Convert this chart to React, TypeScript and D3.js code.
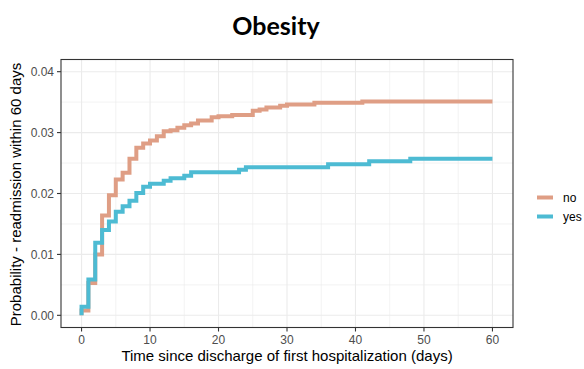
import React from "react";
import * as d3 from "d3";

// Cumulative incidence of readmission by obesity status (step functions)
const daysNo = [0, 1, 2, 3, 4, 5, 6, 7, 8, 9, 10, 11, 12, 13, 14, 15, 16, 17, 19, 20, 22, 25, 26, 27, 29, 30, 34, 41, 60];
const probNo = [0.0008, 0.0053, 0.01, 0.0164, 0.0197, 0.0223, 0.0234, 0.0257, 0.0275, 0.0282, 0.0287, 0.0294, 0.0302, 0.0304, 0.0308, 0.0312, 0.0315, 0.032, 0.0325, 0.0327, 0.0329, 0.0336, 0.0338, 0.0341, 0.0344, 0.0346, 0.0349, 0.0351, 0.0351];

const daysYes = [0, 1, 2, 3, 4, 5, 6, 7, 8, 9, 10, 12, 13, 15, 16, 23, 24, 36, 42, 48, 60];
const probYes = [0.0014, 0.0059, 0.0119, 0.014, 0.0154, 0.017, 0.0179, 0.0188, 0.0201, 0.0211, 0.0216, 0.0221, 0.0225, 0.0229, 0.0235, 0.0239, 0.0243, 0.0248, 0.0253, 0.0257, 0.0257];

const groups = ["no", "yes"];
const groupColors = ["#DF9E85", "#4DBBD3"];

const xTicks = [0, 10, 20, 30, 40, 50, 60];
const xMinor = [5, 15, 25, 35, 45, 55];
const yTicks = [0, 0.01, 0.02, 0.03, 0.04];
const yMinor = [0.005, 0.015, 0.025, 0.035];

const W = 584;
const H = 369;
const panel = { left: 61, right: 513, top: 59.5, bottom: 327.5 };

export default function App() {
  const x = d3.scaleLinear().domain([-3, 63]).range([panel.left, panel.right]);
  const y = d3.scaleLinear().domain([-0.002, 0.042]).range([panel.bottom, panel.top]);

  const line = d3
    .line<[number, number]>()
    .x((d) => x(d[0]))
    .y((d) => y(d[1]))
    .curve(d3.curveStepAfter);

  const series = [
    { days: daysNo, probs: probNo },
    { days: daysYes, probs: probYes },
  ].map((s) => {
    const pts: [number, number][] = [[0, 0]];
    s.days.forEach((d, i) => pts.push([d, s.probs[i]]));
    return pts;
  });

  const font = "'Liberation Sans', Arial, sans-serif";

  return (
    <svg
      width={W}
      height={H}
      style={{ position: "absolute", left: 0, top: 0, background: "#fff" }}
    >
      <text
        x={276}
        y={35}
        textAnchor="middle"
        fontFamily="Lato, 'Open Sans', sans-serif"
        fontWeight={700}
        fontSize={25}
        fill="#000"
      >
        Obesity
      </text>

      {/* grid */}
      <g stroke="#EBEBEB">
        {xMinor.map((t) => (
          <line key={"xm" + t} x1={x(t)} x2={x(t)} y1={panel.top} y2={panel.bottom} strokeWidth={0.6} />
        ))}
        {yMinor.map((t) => (
          <line key={"ym" + t} x1={panel.left} x2={panel.right} y1={y(t)} y2={y(t)} strokeWidth={0.6} />
        ))}
        {xTicks.map((t) => (
          <line key={"xg" + t} x1={x(t)} x2={x(t)} y1={panel.top} y2={panel.bottom} strokeWidth={1.1} />
        ))}
        {yTicks.map((t) => (
          <line key={"yg" + t} x1={panel.left} x2={panel.right} y1={y(t)} y2={y(t)} strokeWidth={1.1} />
        ))}
      </g>

      {/* curves */}
      {series.map((pts, i) => (
        <path
          key={groups[i]}
          d={line(pts) || ""}
          fill="none"
          stroke={groupColors[i]}
          strokeWidth={4}
          strokeLinejoin="miter"
        />
      ))}

      <rect
        x={panel.left}
        y={panel.top}
        width={panel.right - panel.left}
        height={panel.bottom - panel.top}
        fill="none"
        stroke="#333"
        strokeWidth={1.1}
      />

      {/* x axis */}
      <g>
        {xTicks.map((t) => (
          <g key={"xt" + t}>
            <line x1={x(t)} x2={x(t)} y1={panel.bottom} y2={panel.bottom + 4} stroke="#333" strokeWidth={1.1} />
            <text
              x={x(t)}
              y={panel.bottom + 16}
              textAnchor="middle"
              fontFamily={font}
              fontSize={12}
              fill="#4D4D4D"
            >
              {t}
            </text>
          </g>
        ))}
      </g>

      {/* y axis */}
      <g>
        {yTicks.map((t) => (
          <g key={"yt" + t}>
            <line x1={panel.left - 4} x2={panel.left} y1={y(t)} y2={y(t)} stroke="#333" strokeWidth={1.1} />
            <text
              x={panel.left - 7}
              y={y(t) + 4.2}
              textAnchor="end"
              fontFamily={font}
              fontSize={12}
              fill="#4D4D4D"
            >
              {d3.format(".2f")(t)}
            </text>
          </g>
        ))}
      </g>

      <text
        x={(panel.left + panel.right) / 2}
        y={361}
        textAnchor="middle"
        fontFamily={font}
        fontSize={15}
        fill="#000"
      >
        Time since discharge of first hospitalization (days)
      </text>
      <text
        transform={`translate(21, ${(panel.top + panel.bottom) / 2 + 1}) rotate(-90)`}
        textAnchor="middle"
        fontFamily={font}
        fontSize={15}
        fill="#000"
      >
        Probability - readmission within 60 days
      </text>

      {/* legend */}
      {groups.map((g, i) => (
        <g key={"lg" + g} transform={`translate(0, ${197.5 + i * 19})`}>
          <line x1={537} x2={553} y1={0} y2={0} stroke={groupColors[i]} strokeWidth={4} />
          <text x={563} y={4.3} fontFamily={font} fontSize={12} fill="#000">
            {g}
          </text>
        </g>
      ))}
    </svg>
  );
}
